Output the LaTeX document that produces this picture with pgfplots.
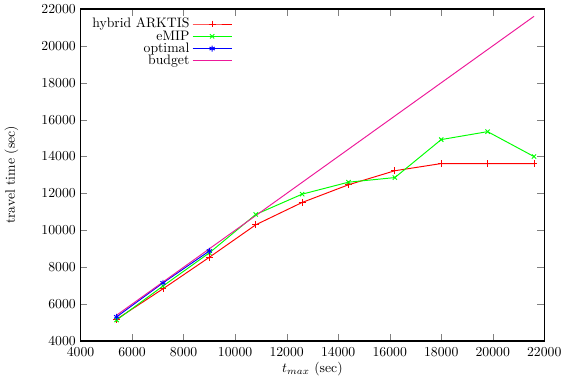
\documentclass[border=0pt]{standalone}
\usepackage{pgfplots}
\pgfplotsset{compat=1.18}
\definecolor{budgetc}{rgb}{0.93,0.1,0.6}
\begin{document}
\begin{tikzpicture}
\begin{axis}[
  scale only axis,
  width=338pt, height=242pt,
  xmin=4000, xmax=22000, ymin=4000, ymax=22000,
  xtick distance=2000, ytick distance=2000,
  scaled ticks=false,
  /pgf/number format/set thousands separator={},
  tick align=inside,
  major tick length=5pt,
  minor tick num=0,
  axis line style={line width=0.8pt},
  xticklabel style={yshift=-1.5pt},
  xlabel={$t_{max}$ (sec)},
  ylabel={travel time (sec)},
  ylabel style={yshift=10pt},
  xlabel style={yshift=3pt},
  legend style={at={(0.01,0.99)}, anchor=north west, draw=none, fill=none,
    row sep=-3.5pt, font=\normalsize},
  legend cell align=right,
  legend plot pos=right,
  legend image code/.code={\draw[mark repeat=2,mark phase=2] plot coordinates {(0cm,0cm) (0.5cm,0cm) (1cm,0cm)};},
  every axis plot/.append style={line width=0.7pt},
]
\addplot[red, mark=+, mark size=2.5pt] coordinates {
(5400,5180) (7200,6830) (9000,8540) (10800,10300) (12600,11510) (14400,12470) (16200,13230) (18000,13620) (19800,13620) (21600,13620)};
\addlegendentry{hybrid ARKTIS}
\addplot[green, mark=x, mark size=2.2pt] coordinates {
(5400,5140) (7200,6980) (9000,8780) (10800,10860) (12600,11960) (14400,12610) (16200,12860) (18000,14920) (19800,15350) (21600,14000)};
\addlegendentry{eMIP}
\addplot[blue, mark=asterisk, mark size=2.2pt] coordinates {
(5400,5310) (7200,7150) (9000,8880)};
\addlegendentry{optimal}
\addplot[budgetc, no marks] coordinates {
(5400,5400) (21600,21600)};
\addlegendentry{budget}
\end{axis}
\end{tikzpicture}
\end{document}
